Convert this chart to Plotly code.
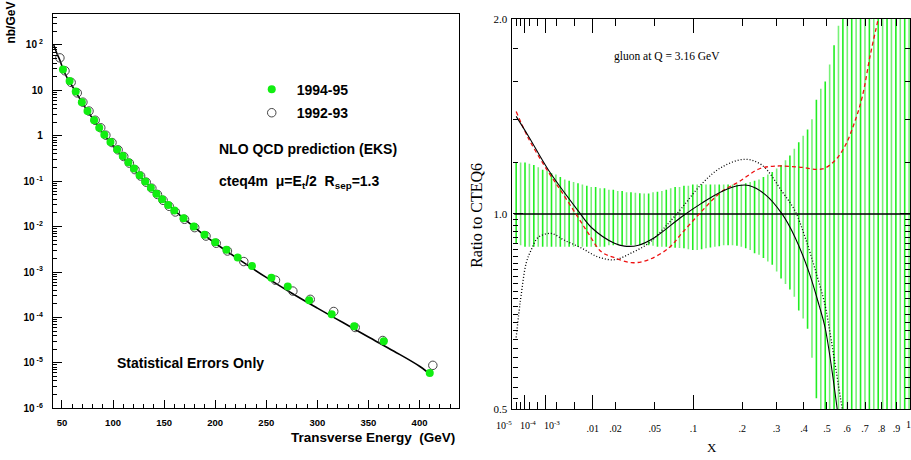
import plotly.graph_objects as go
import math

W, H = 911, 460

# ---------------- left panel data (inclusive jet cross section) ----------------
et_9495 = [51, 57.5, 63.5, 69.5, 75, 81.5, 86.5, 91.5, 97.5, 104, 109.5, 115, 120.5, 126, 131.5,
           137, 142.5, 148, 154, 160, 169, 179, 189.5, 200, 211, 222, 236, 255, 271, 292, 314,
           336, 365, 410]
xs_9495 = [29, 16, 9.5, 5.5, 3.5, 2.2, 1.5, 1.05, 0.73, 0.50, 0.36, 0.26, 0.19, 0.135, 0.098,
           0.072, 0.053, 0.040, 0.030, 0.0225, 0.0152, 0.0100, 0.0066, 0.0045, 0.0031, 0.0021,
           0.00135, 0.00075, 0.00048, 0.00024, 0.000118, 6.4e-5, 3.0e-5, 6.0e-6]

et_9293 = [48, 53, 59, 65, 70.5, 76.5, 82.5, 88, 93, 99, 105, 110.5, 116, 121.5, 127, 132.5,
           138, 143.5, 149, 155, 161, 170, 180, 191, 201, 212, 228, 259, 276, 293, 316, 337,
           364, 413]
xs_9293 = [52, 27, 15, 8.8, 5.5, 3.5, 2.2, 1.5, 1.03, 0.71, 0.49, 0.35, 0.25, 0.18, 0.13,
           0.095, 0.07, 0.051, 0.038, 0.028, 0.021, 0.0145, 0.0095, 0.0062, 0.0043, 0.0029,
           0.0017, 0.00066, 0.00038, 0.00025, 0.000135, 6.0e-5, 3.1e-5, 8.8e-6]

et_nlo = [42, 45, 48, 51, 55, 60, 65, 70, 75, 80, 85, 90, 95, 100, 110, 120, 130, 140, 150,
          160, 175, 190, 200, 225, 250, 275, 300, 325, 350, 375, 400, 412]
xs_nlo = [100, 66, 46, 30, 19, 12.5, 8.1, 5.3, 3.5, 2.4, 1.65, 1.16, 0.83, 0.60, 0.33, 0.185,
          0.105, 0.062, 0.037, 0.0228, 0.0118, 0.0063, 0.0043, 0.00178, 0.00076, 0.00034,
          0.000160, 7.7e-5, 3.7e-5, 1.8e-5, 8.4e-6, 5.2e-6]

et_ticks = [50, 100, 150, 200, 250, 300, 350, 400]
xs_tickvals = [1e-6, 1e-5, 1e-4, 1e-3, 1e-2, 1e-1, 1, 10, 100]
xs_ticktext = ["<b>10<sup> -6</sup></b>", "<b>10<sup> -5</sup></b>", "<b>10<sup> -4</sup></b>",
               "<b>10<sup> -3</sup></b>", "<b>10<sup> -2</sup></b>", "<b>10<sup> -1</sup></b>",
               "<b>1</b>", "<b>10</b>", "<b>10<sup> 2</sup></b>"]

# ---------------- right panel data (gluon ratio to CTEQ6 at Q = 3.16 GeV) ----------------
x_band = [1.86e-5, 5.23e-5, 1.127e-4, 2.07e-4, 3.44e-4, 5.31e-4, 7.76e-4, 1.086e-3, 1.470e-3, 1.934e-3,
          2.488e-3, 3.138e-3, 3.892e-3, 4.759e-3, 5.745e-3, 6.859e-3, 8.108e-3, 9.501e-3, 0.01104, 0.01275,
          0.01462, 0.01666, 0.01888, 0.02130, 0.02391, 0.02673, 0.02976, 0.03301, 0.03650, 0.04021,
          0.04417, 0.04839, 0.05286, 0.05760, 0.06262, 0.06792, 0.07351, 0.07940, 0.08559, 0.09210,
          0.09893, 0.1061, 0.1136, 0.1214, 0.1296, 0.1382, 0.1471, 0.1564, 0.1661, 0.1762,
          0.1867, 0.1975, 0.2088, 0.2206, 0.2327, 0.2453, 0.2584, 0.2718, 0.2858, 0.3002,
          0.3151, 0.3305, 0.3464, 0.3628, 0.3797, 0.3971, 0.4150, 0.4334, 0.4524, 0.4720,
          0.4921, 0.5128, 0.5340, 0.5558, 0.5782, 0.6012, 0.6248, 0.6490, 0.6738, 0.6993,
          0.7254, 0.7521, 0.7795, 0.8075, 0.8362, 0.8655, 0.8956, 0.9263, 0.9577, 0.9898]
band_hi = [1.20, 1.20, 1.20, 1.195, 1.19, 1.18, 1.17, 1.165, 1.155, 1.15,
           1.14, 1.13, 1.125, 1.12, 1.115, 1.11, 1.105, 1.10, 1.10, 1.095,
           1.095, 1.09, 1.09, 1.085, 1.085, 1.08, 1.08, 1.078, 1.076, 1.075,
           1.075, 1.08, 1.082, 1.085, 1.09, 1.095, 1.10, 1.10, 1.105, 1.105,
           1.11, 1.11, 1.11, 1.11, 1.11, 1.11, 1.11, 1.11, 1.11, 1.11,
           1.11, 1.11, 1.115, 1.12, 1.125, 1.13, 1.14, 1.15, 1.16, 1.175,
           1.19, 1.21, 1.23, 1.26, 1.29, 1.32, 1.35, 1.40, 1.50, 1.56,
           1.60, 1.70, 1.82, 1.95, 2.1, 2.1, 2.1, 2.1, 2.1, 2.1,
           2.1, 2.1, 2.1, 2.1, 2.1, 2.1, 2.1, 2.1, 2.1, 2.1]
band_lo = [0.90, 0.895, 0.89, 0.89, 0.89, 0.89, 0.89, 0.89, 0.89, 0.89,
           0.89, 0.89, 0.89, 0.89, 0.89, 0.89, 0.89, 0.89, 0.89, 0.89,
           0.89, 0.895, 0.895, 0.895, 0.895, 0.895, 0.895, 0.895, 0.895, 0.895,
           0.895, 0.893, 0.89, 0.89, 0.89, 0.888, 0.887, 0.886, 0.885, 0.882,
           0.88, 0.88, 0.882, 0.885, 0.888, 0.89, 0.892, 0.895, 0.895, 0.895,
           0.893, 0.89, 0.885, 0.88, 0.87, 0.865, 0.855, 0.845, 0.835, 0.815,
           0.795, 0.78, 0.765, 0.745, 0.71, 0.69, 0.665, 0.60, 0.52, 0.48,
           0.48, 0.48, 0.48, 0.48, 0.48, 0.48, 0.48, 0.48, 0.48, 0.48,
           0.48, 0.48, 0.48, 0.48, 0.48, 0.48, 0.48, 0.48, 0.48, 0.48]

x_solid = [1.86e-5, 1.77e-4, 1.18e-3, 5.84e-3, 9.56e-3, 0.0195, 0.0254, 0.0355, 0.050, 0.0824,
           0.1139, 0.1525, 0.1915, 0.2172, 0.2631, 0.3185, 0.3657, 0.4215, 0.4647, 0.4919, 0.5496]
r_solid = [1.414, 1.32, 1.17, 1.01, 0.953, 0.901, 0.892, 0.895, 0.92, 0.99,
           1.039, 1.083, 1.106, 1.106, 1.072, 1.0, 0.92, 0.812, 0.722, 0.667, 0.5]

x_dash = [1.86e-5, 1.77e-4, 1.18e-3, 2.63e-3, 5.84e-3, 8.59e-3, 0.0133, 0.0195, 0.0302, 0.0441,
          0.0654, 0.0824, 0.1139, 0.1525, 0.1915, 0.2452, 0.2948, 0.3811, 0.4782, 0.5397,
          0.5904, 0.6387, 0.6838, 0.7312, 0.7741, 0.7805]
r_dash = [1.439, 1.31, 1.161, 1.083, 0.986, 0.933, 0.874, 0.856, 0.841, 0.85,
          0.886, 0.933, 1.010, 1.083, 1.121, 1.173, 1.185, 1.181, 1.173, 1.21,
          1.275, 1.38, 1.516, 1.76, 1.97, 2.0]

x_dot = [1.86e-5, 3.9e-5, 5.86e-5, 1.34e-4, 2.57e-4, 5.3e-4, 1.45e-3, 3.07e-3, 6.59e-3, 0.0121,
         0.0195, 0.0302, 0.0441, 0.0607, 0.0824, 0.1139, 0.1525, 0.2067, 0.2541, 0.3185,
         0.3657, 0.4050, 0.4471, 0.4919, 0.5107, 0.5749]
r_dot = [0.645, 0.71, 0.75, 0.84, 0.88, 0.92, 0.933, 0.911, 0.886, 0.858,
         0.85, 0.871, 0.901, 0.953, 1.021, 1.113, 1.181, 1.214, 1.189, 1.083,
         1.010, 0.92, 0.821, 0.722, 0.667, 0.5]

x_label_vals = [0.01, 0.02, 0.05, 0.1, 0.2, 0.3, 0.4, 0.5, 0.6, 0.7, 0.8, 0.9]
x_label_text = [".01", ".02", ".05", ".1", ".2", ".3", ".4", ".5", ".6", ".7", ".8", ".9"]
x_power_text = ["10<sup>-5</sup>", "10<sup>-4</sup>", "10<sup>-3</sup>", "1"]
x_decades = [1e-4, 1e-3, 1e-2, 1e-1]
x_minor = [2e-5, 5e-5, 2e-4, 5e-4, 2e-3, 5e-3]


def cube(v):
    return [a ** (1.0 / 3.0) for a in v]


SANS = "Liberation Sans, Arial, sans-serif"
SERIF = "Liberation Serif, Times New Roman, serif"

fig = go.Figure()

# ---- left panel ----
fig.add_trace(go.Scatter(x=et_nlo, y=xs_nlo, mode="lines", line=dict(color="black", width=1.6, shape="spline"),
                         showlegend=False, xaxis="x", yaxis="y"))
fig.add_trace(go.Scatter(x=et_9293, y=xs_9293, mode="markers", name="<b>1992-93</b>",
                         marker=dict(symbol="circle-open", size=8.5, color="#444444", line=dict(width=1)),
                         xaxis="x", yaxis="y", legend="legend2"))
fig.add_trace(go.Scatter(x=et_9495, y=xs_9495, mode="markers", name="<b>1994-95</b>",
                         marker=dict(symbol="circle", size=8, color="#11ee11", line=dict(width=0)),
                         xaxis="x", yaxis="y", legend="legend"))

# ---- right panel ----
ub = cube(x_band)
for parity, col in ((0, "#22ee22"), (1, "#77f277")):
    bx, by = [], []
    for i in range(parity, len(ub), 2):
        bx += [ub[i], ub[i], None]
        by += [band_lo[i], band_hi[i], None]
    fig.add_trace(go.Scatter(x=bx, y=by, mode="lines", line=dict(color=col, width=1.6),
                             showlegend=False, xaxis="x2", yaxis="y2"))

fig.add_trace(go.Scatter(x=[1e-5 ** (1 / 3), 1.0], y=[1.0, 1.0], mode="lines",
                         line=dict(color="black", width=1.5), showlegend=False, xaxis="x2", yaxis="y2"))
fig.add_trace(go.Scatter(x=cube(x_dot), y=r_dot, mode="lines",
                         line=dict(color="black", width=1.3, dash="1px,2px", shape="spline"),
                         showlegend=False, xaxis="x2", yaxis="y2"))
fig.add_trace(go.Scatter(x=cube(x_dash), y=r_dash, mode="lines",
                         line=dict(color="#ee1111", width=1.3, dash="4px,3px", shape="spline"),
                         showlegend=False, xaxis="x2", yaxis="y2"))
fig.add_trace(go.Scatter(x=cube(x_solid), y=r_solid, mode="lines",
                         line=dict(color="black", width=1.1, shape="spline"),
                         showlegend=False, xaxis="x2", yaxis="y2"))
# overlay trace to host long decade ticks
fig.add_trace(go.Scatter(x=[None], y=[None], xaxis="x3", yaxis="y2", showlegend=False))

# axes geometry
L0, L1 = 53 / W, 460 / W
LB, LT = 1 - 413 / H, 1 - 8 / H
R0, R1 = 513 / W, 1.0
RB, RT = 1 - 414 / H, 1 - 13 / H

minor_left_y = [m * 10 ** e for e in range(-6, 3) for m in range(2, 10)]
y2_minor = [0.52 + 0.02 * k for k in range(24)] + [1.2, 1.4, 1.6, 1.8]

fig.update_layout(
    width=W, height=H, margin=dict(l=0, r=0, t=0, b=0),
    paper_bgcolor="white", plot_bgcolor="white",
    xaxis=dict(domain=[L0, L1], range=[41.2, 439.1], anchor="y", showline=True, linecolor="black",
               linewidth=1.2, mirror=True, ticks="inside", ticklen=8, tickcolor="black",
               tickvals=et_ticks, ticktext=["<b>%d</b>" % v for v in et_ticks], tickangle=0,
               tickfont=dict(family=SANS, size=9.5, color="black"), ticklabelstandoff=5,
               minor=dict(ticks="inside", ticklen=4, dtick=10, tick0=0, tickcolor="black"),
               showgrid=False, zeroline=False),
    yaxis=dict(domain=[LB, LT], type="log", range=[-6, 2.687], anchor="x", showline=True,
               linecolor="black", linewidth=1.2, mirror=True, ticks="inside", ticklen=9,
               tickcolor="black", tickvals=xs_tickvals, ticktext=xs_ticktext,
               tickfont=dict(family=SANS, size=10, color="black"), ticklabelstandoff=7,
               minor=dict(ticks="inside", ticklen=4, tickvals=minor_left_y, tickcolor="black"),
               showgrid=False, zeroline=False),
    xaxis2=dict(domain=[R0, R1], range=[0.01726, 0.9988], anchor="y2", showline=True,
                linecolor="black", linewidth=1.2, mirror="ticks", ticks="inside", ticklen=7,
                tickcolor="black", tickvals=cube(x_label_vals), ticktext=x_label_text, tickangle=0,
                tickfont=dict(family=SERIF, size=10, color="black"), ticklabelstandoff=10,
                minor=dict(ticks="inside", ticklen=7, tickvals=cube(x_minor), tickcolor="black"),
                showgrid=False, zeroline=False),
    xaxis3=dict(overlaying="x2", anchor="y2", range=[0.01726, 0.9988], side="bottom",
                showline=False, mirror="ticks", ticks="inside", ticklen=14, tickcolor="black",
                tickvals=cube(x_decades), showticklabels=False, showgrid=False, zeroline=False),
    yaxis2=dict(domain=[RB, RT], type="log", range=[math.log10(0.5), math.log10(2.0)], anchor="x2",
                showline=True, linecolor="black", linewidth=1.2, mirror="ticks", ticks="inside",
                ticklen=10, tickcolor="black", tickvals=[0.5, 0.6, 0.7, 0.8, 0.9, 1.0, 2.0],
                ticktext=["0.5", "", "", "", "", "1.0", "2.0"],
                tickfont=dict(family=SERIF, size=11, color="black"), ticklabelstandoff=2,
                minor=dict(ticks="inside", ticklen=5, tickvals=y2_minor, tickcolor="black"),
                showgrid=False, zeroline=False),
    legend=dict(x=247 / W, y=1 - 86 / H, xanchor="left", yanchor="middle", bgcolor="rgba(0,0,0,0)",
                font=dict(family=SANS, size=14, color="black"), itemwidth=40),
    legend2=dict(x=247 / W, y=1 - 110 / H, xanchor="left", yanchor="middle", bgcolor="rgba(0,0,0,0)",
                 font=dict(family=SANS, size=14, color="black"), itemwidth=40),
)

ann = [
    dict(text="<b>nb/GeV</b>", x=11 / W, y=1 - 17 / H, textangle=-90, font=dict(family=SANS, size=12)),
    dict(text="<b>Transverse Energy\u00a0\u00a0(GeV)</b>", x=458 / W, y=1 - 443 / H, xanchor="right",
         font=dict(family=SANS, size=13.5)),
    dict(text="<b>NLO QCD prediction (EKS)</b>", x=217 / W, y=1 - 147 / H, xanchor="left",
         font=dict(family=SANS, size=14)),
    dict(text="<b>cteq4m\u00a0\u00a0\u03bc=E<sub>t</sub>/2\u00a0\u00a0R<sub>sep</sub>=1.3</b>", x=217 / W,
         y=1 - 181 / H, xanchor="left", font=dict(family=SANS, size=14)),
    dict(text="<b>Statistical Errors Only</b>", x=191 / W, y=1 - 367 / H, xanchor="center",
         font=dict(family=SANS, size=14)),
    dict(text="gluon at Q = 3.16 GeV", x=668 / W, y=1 - 52 / H, xanchor="center",
         font=dict(family=SERIF, size=11.5)),
    dict(text="X", x=713 / W, y=1 - 453 / H, xanchor="center", font=dict(family=SERIF, size=13)),
    dict(text="Ratio to CTEQ6", x=477 / W, y=1 - 215 / H, textangle=-90, font=dict(family=SERIF, size=16)),
]
for txt, px in zip(x_power_text, [505, 529, 553, 909]):
    ann.append(dict(text=txt, x=px / W, y=1 - 430 / H, xanchor="center", font=dict(family=SERIF, size=10)))
for a in ann:
    a.update(xref="paper", yref="paper", showarrow=False)
    a.setdefault("xanchor", "center")
    a.setdefault("yanchor", "middle")
    a["font"].setdefault("color", "black")
fig.update_layout(annotations=ann)

fig.write_html("out.html")
